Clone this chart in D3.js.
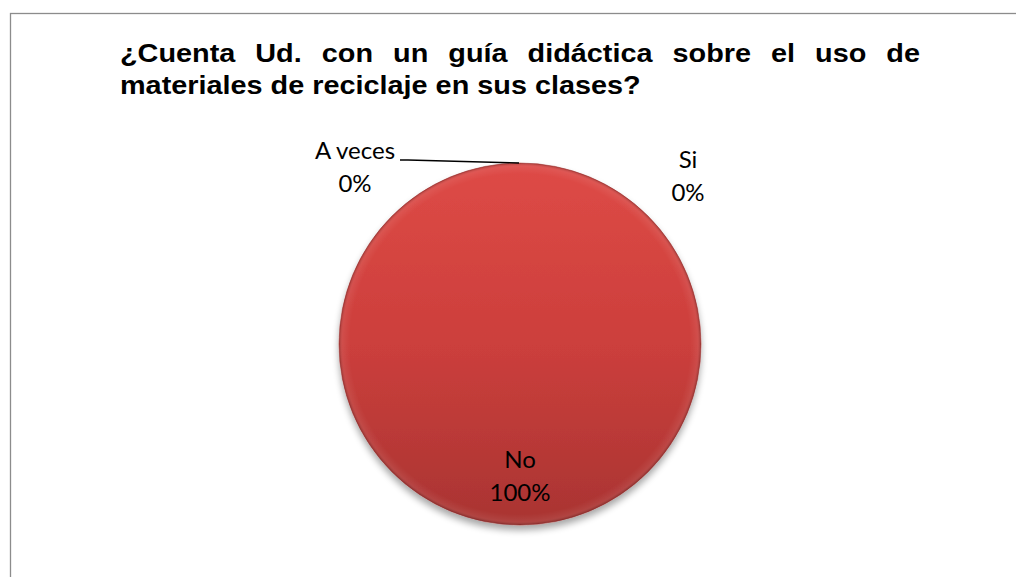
<!DOCTYPE html>
<html><head><meta charset="utf-8">
<script src="https://cdn.jsdelivr.net/npm/d3@7"></script>
<style>
html,body{margin:0;padding:0;background:#fff;}
svg{display:block;}
</style>
</head><body>
<svg id="chart" width="1016" height="577"></svg>
<script>
const categories = ["Si", "No", "A veces"];
const values = [0, 100, 0];
const percentLabels = ["0%", "100%", "0%"];
const titleLines = ["¿Cuenta Ud. con un guía didáctica sobre el uso de", "materiales de reciclaje en sus clases?"];

const svg = d3.select("#chart");
const W = 1016, H = 577;

// border
svg.append("rect").attr("x", 10.5).attr("y", 13.5).attr("width", 1020).attr("height", 600)
  .attr("fill", "#fff").attr("stroke", "#8c8c8c").attr("stroke-width", 1.3);

// title
const TF = "Liberation Sans, Arial, sans-serif", TS = 25.5;
const tx0 = 120, tx1 = 920, line2W = 521;
const tg = svg.append("g");
const measure = s => {
  const t = tg.append("text").attr("font-family", TF).attr("font-weight", "bold").attr("font-size", TS).text(s);
  const w = t.node().getComputedTextLength(); t.remove(); return w;
};
const sx = line2W / measure(titleLines[1]);
tg.attr("transform", `translate(${tx0},0) scale(${sx},1)`);
const words = titleLines[0].split(" ");
const widths = words.map(measure);
const avail = (tx1 - tx0) / sx;
const gap = (avail - d3.sum(widths)) / (words.length - 1);
let xx = 0;
words.forEach((w, i) => {
  tg.append("text").attr("x", xx).attr("y", 62)
    .attr("font-family", TF).attr("font-weight", "bold").attr("font-size", TS).attr("fill", "#000").text(w);
  xx += widths[i] + gap;
});
tg.append("text").attr("x", 0).attr("y", 94)
  .attr("font-family", TF).attr("font-weight", "bold").attr("font-size", TS).attr("fill", "#000").text(titleLines[1]);

// pie
const cx = 520, cy = 344, r = 181;
const defs = svg.append("defs");
const grad = defs.append("linearGradient").attr("id", "pg").attr("x1", 0).attr("y1", 0).attr("x2", 0).attr("y2", 1);
grad.append("stop").attr("offset", "0%").attr("stop-color", "#de4a46");
grad.append("stop").attr("offset", "50%").attr("stop-color", "#cc3f3c");
grad.append("stop").attr("offset", "100%").attr("stop-color", "#a93432");
const f = defs.append("filter").attr("id", "sh").attr("x", "-20%").attr("y", "-20%").attr("width", "140%").attr("height", "140%");
f.append("feGaussianBlur").attr("in", "SourceAlpha").attr("stdDeviation", 3.5);
f.append("feOffset").attr("dx", 0).attr("dy", 5).attr("result", "ob");
f.append("feComponentTransfer").append("feFuncA").attr("type", "linear").attr("slope", 0.35);
const fm = f.append("feMerge");
fm.append("feMergeNode");
fm.append("feMergeNode").attr("in", "SourceGraphic");
const rim = defs.append("radialGradient").attr("id", "rim").attr("cx", "50%").attr("cy", "50%").attr("r", "50%");
rim.append("stop").attr("offset", "94%").attr("stop-color", "#fff").attr("stop-opacity", 0);
rim.append("stop").attr("offset", "98%").attr("stop-color", "#fff").attr("stop-opacity", 0.07);
rim.append("stop").attr("offset", "100%").attr("stop-color", "#000").attr("stop-opacity", 0.22);

const pie = d3.pie().sort(null).startAngle(0).endAngle(2 * Math.PI).value(d => d);
const arcs = pie(values);
const arc = d3.arc().innerRadius(0).outerRadius(r);
const g = svg.append("g").attr("transform", `translate(${cx},${cy})`);
g.selectAll("path.slice").data(arcs).enter().append("path").attr("class", "slice")
  .attr("d", arc).attr("fill", "url(#pg)").attr("filter", "url(#sh)")
  .attr("stroke", d => d.value > 0 ? "#a5312f" : "none").attr("stroke-width", 0.5);
g.selectAll("path.rim").data(arcs.filter(d => d.value > 0)).enter().append("path").attr("class", "rim")
  .attr("d", arc).attr("fill", "url(#rim)");

// labels
const LF = "Lato, 'Noto Sans', sans-serif", LS = 24;
const labelPos = {
  "Si": [168, -176],
  "No": [0, 124],
  "A veces": [-165, -185]
};
const lab = g.selectAll("g.lab").data(arcs).enter().append("g").attr("class", "lab")
  .attr("transform", (d, i) => `translate(${labelPos[categories[i]][0]},${labelPos[categories[i]][1]})`);
lab.append("text").attr("text-anchor", "middle").attr("y", 0)
  .attr("font-family", LF).attr("font-size", LS).attr("fill", "#000")
  .text((d, i) => categories[i]);
lab.append("text").attr("text-anchor", "middle").attr("y", 33)
  .attr("font-family", LF).attr("font-size", LS).attr("fill", "#000")
  .text((d, i) => percentLabels[i]);

// leader line for "A veces"
const av = arcs[2];
const ang = av.startAngle;
g.append("polyline")
  .attr("points", [[-120, -184], [-112, -184], [Math.sin(ang) * r - 1, -Math.cos(ang) * r]].map(p => p.join(",")).join(" "))
  .attr("fill", "none").attr("stroke", "#000").attr("stroke-width", 1.3);
</script>
</body></html>
